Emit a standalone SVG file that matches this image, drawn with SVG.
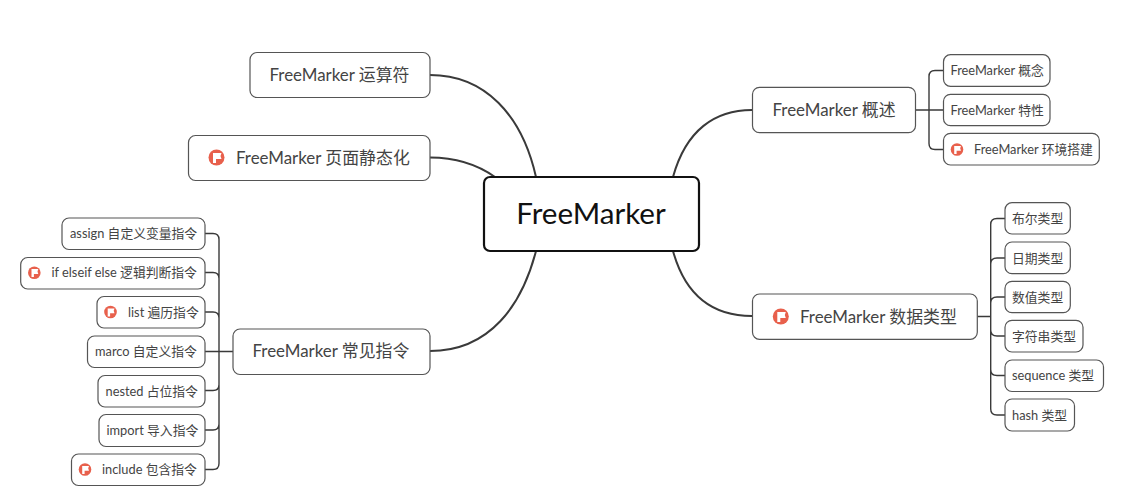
<svg xmlns="http://www.w3.org/2000/svg" width="1127" height="504" viewBox="0 0 1127 504">
<style>
text{font-family:"Lato","Noto Sans CJK SC",sans-serif;fill:#444}
.b{fill:#fff;stroke:#555;stroke-width:1.2}
.m text{font-size:16.900px}
.c text{font-size:12.800px}
.l{fill:none;stroke:#3a3a3a;stroke-width:1.400}
.t{fill:none;stroke:#3a3a3a;stroke-width:2}
</style>
<defs>
<g id="flag"><circle r="8" fill="#E8604C"/><path d="M-3.500-4.500H5L4-1.500L5 1.500H-.5V5.500H-3.500Z" fill="#fff"/></g>
<g id="flagS"><circle r="6.300" fill="#E8604C"/><path d="M-2.800-3.600H4L3.200-1.200L4 1.200H-.4V4.400H-2.800Z" fill="#fff"/></g>
</defs>
<g id="connectors">
<path class="t" d="M430 75C485 75 522 115 536 177"/>
<path class="t" d="M430 157.500C455 157.500 478 165 495 177"/>
<path class="t" d="M430 351C490 351 522 305 536 251"/>
<path class="t" d="M752 110C715 110 686 130 673 177"/>
<path class="t" d="M752 316C715 316 686 298 673 251"/>
<path class="l" d="M915.700 110H943.500M943.500 70.500H935C931 70.500 929 72.500 929 76.500V143.500C929 147.500 931 149.500 935 149.500H943.500"/>
<path class="l" d="M977.300 316.500H990.700M1005 218.500H997C993 218.500 990.700 220.500 990.700 224.500V409C990.700 413 993 415 997 415H1005M1005 258H997C993 258 990.700 260 990.700 264M1005 297H997C993 297 990.700 299 990.700 303M1005 336H997C993 336 990.700 334 990.700 330M1005 375.500H997C993 375.500 990.700 373.500 990.700 369.500"/>
<path class="l" d="M233 351.500H205M205 233.500H213C217 233.500 219 235.500 219 239.500V463.500C219 467.500 217 469.500 213 469.500H205M205 272.500H213C217 272.500 219 274.500 219 278.500M205 312H213C217 312 219 314 219 318M205 390.500H213C217 390.500 219 388.500 219 384.500M205 430H213C217 430 219 428 219 424"/>
</g>
<g id="central"><rect x="484" y="177" width="215" height="74" rx="6" fill="#fff" stroke="#111" stroke-width="2.200"/><text x="591" y="224" text-anchor="middle" style="font-size:29.600px;fill:#111">FreeMarker</text></g>
<g class="m">
<g id="n-op"><rect class="b" x="250" y="52.500" width="180" height="45" rx="7"/><text x="269.500" y="80.500">FreeMarker 运算符</text></g>
<g id="n-static"><rect class="b" x="188.500" y="135.500" width="241.500" height="45" rx="7"/><use href="#flag" x="216.500" y="157.500"/><text x="236" y="163.500">FreeMarker 页面静态化</text></g>
<g id="n-directive"><rect class="b" x="233" y="329" width="197" height="45.500" rx="7"/><text x="252.500" y="357">FreeMarker 常见指令</text></g>
<g id="n-overview"><rect class="b" x="752.500" y="87.300" width="163" height="45.400" rx="7"/><text x="772.500" y="115.500">FreeMarker 概述</text></g>
<g id="n-types"><rect class="b" x="752.500" y="294" width="224.800" height="45.300" rx="7"/><use href="#flag" x="780.800" y="316.500"/><text x="800" y="322.500">FreeMarker 数据类型</text></g>
</g>
<g class="c">
<g id="c-concept"><rect class="b" x="943.500" y="54.700" width="106.500" height="31.600" rx="7"/><text x="950.500" y="75">FreeMarker 概念</text></g>
<g id="c-feature"><rect class="b" x="943.500" y="94.300" width="106.500" height="31.400" rx="7"/><text x="950.500" y="114.500">FreeMarker 特性</text></g>
<g id="c-env"><rect class="b" x="943.500" y="133.300" width="155.800" height="31.700" rx="7"/><use href="#flagS" x="957" y="149.500"/><text x="974" y="153.500">FreeMarker 环境搭建</text></g>
<g id="t-bool"><rect class="b" x="1005" y="202.700" width="65.300" height="31.300" rx="7"/><text x="1012" y="223">布尔类型</text></g>
<g id="t-date"><rect class="b" x="1005" y="242" width="65.300" height="31.700" rx="7"/><text x="1012" y="262.500">日期类型</text></g>
<g id="t-num"><rect class="b" x="1005" y="281.300" width="65.300" height="31.400" rx="7"/><text x="1012" y="301.500">数值类型</text></g>
<g id="t-str"><rect class="b" x="1005" y="320.300" width="78" height="31.700" rx="7"/><text x="1012" y="341">字符串类型</text></g>
<g id="t-seq"><rect class="b" x="1005" y="360" width="98.500" height="31.500" rx="7"/><text x="1012" y="380">sequence 类型</text></g>
<g id="t-hash"><rect class="b" x="1005" y="399" width="69.500" height="32" rx="7"/><text x="1012" y="419.500">hash 类型</text></g>
<g id="d-assign"><rect class="b" x="62" y="218" width="143" height="31.500" rx="7"/><text x="70" y="238">assign 自定义变量指令</text></g>
<g id="d-if"><rect class="b" x="20.700" y="257.500" width="184.300" height="31.500" rx="7"/><use href="#flagS" x="34.300" y="272.700"/><text x="51.500" y="277">if elseif else 逻辑判断指令</text></g>
<g id="d-list"><rect class="b" x="97" y="296.500" width="108" height="31.500" rx="7"/><use href="#flagS" x="110.500" y="312"/><text x="128" y="316.500">list 遍历指令</text></g>
<g id="d-marco"><rect class="b" x="87.500" y="336" width="117.500" height="31.500" rx="7"/><text x="95" y="356">marco 自定义指令</text></g>
<g id="d-nested"><rect class="b" x="98" y="375.500" width="107" height="31.500" rx="7"/><text x="105.500" y="395.500">nested 占位指令</text></g>
<g id="d-import"><rect class="b" x="99" y="414.500" width="106" height="32" rx="7"/><text x="106.500" y="434.500">import 导入指令</text></g>
<g id="d-include"><rect class="b" x="71.500" y="454" width="133.500" height="31.500" rx="7"/><use href="#flagS" x="85" y="469.500"/><text x="102" y="474">include 包含指令</text></g>
</g>
</svg>
